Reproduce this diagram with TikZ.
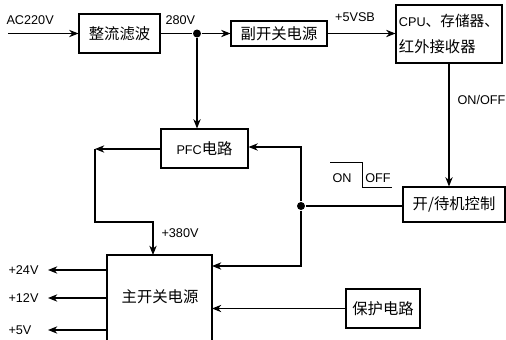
\documentclass[tikz,border=0pt]{standalone}
\usepackage{fontspec}
\setmainfont{Liberation Sans}
\newfontfamily\cjk{Noto Sans CJK SC}
\usetikzlibrary{arrows.meta}
\begin{document}
\begin{tikzpicture}[x=0.75pt,y=-0.75pt,
  line width=0.8pt,
  box/.style={draw,rectangle,inner sep=0pt,font=\cjk\fontsize{11.5}{13}\selectfont},
  lbl/.style={inner sep=0pt,font=\fontsize{9.5}{11}\selectfont},
  arr/.style={-{Stealth[length=7pt,width=5.5pt]}},
  dotc/.style={circle,fill,inner sep=0pt,minimum size=6pt}]
\useasboundingbox (0,0) rectangle (506,339);
% boxes
\node[box,minimum width=81*0.75pt,minimum height=39*0.75pt] (zl) at (119.5,33.5) {整流滤波};
\node[box,minimum width=96*0.75pt,minimum height=25*0.75pt] (fk) at (279,33.5) {副开关电源};
\node[box,minimum width=106*0.75pt,minimum height=58*0.75pt,align=left] (cpu) at (449,34)
  {\fontsize{9.5}{11}\selectfont\rmfamily CPU\cjk\fontsize{11}{13}\selectfont 、存储器、\\[6pt]红外接收器};
\node[box,minimum width=87*0.75pt,minimum height=39*0.75pt] (pfc) at (204.5,148.5)
  {\fontsize{9.5}{11}\selectfont\rmfamily PFC\cjk\fontsize{11.5}{13}\selectfont 电路};
\node[box,minimum width=102*0.75pt,minimum height=35*0.75pt] (dj) at (454,204.5) {开/待机控制};
\node[box,minimum width=74*0.75pt,minimum height=39*0.75pt] (bh) at (383,308.5) {保护电路};
% main box (bottom cut off)
\coordinate (mbl) at (107,345);
\coordinate (mtl) at (107,255);
\coordinate (mtr) at (212,255);
\coordinate (mbr) at (212,345);
\draw (mbl) -- (mtl) -- (mtr) -- (mbr);
\node[inner sep=0pt,font=\cjk\fontsize{11.5}{13}\selectfont] (main) at (160,297) {主开关电源};
% input
\coordinate (acin) at (8,33.5);
\draw[arr] (acin) -- (zl.west);
\node[lbl,anchor=west] (ac) at (6,20) {AC220V};
% 280V junction
\node[dotc] (j1) at (197,33.5) {};
\draw (zl.east) -- (j1);
\node[lbl,anchor=west] (v280) at (165,20) {280V};
\draw[arr] (j1) -- (fk.west);
\draw[arr] (j1) -- (j1 |- pfc.north);
% +5VSB
\draw[arr] (fk.east) -- (fk.east -| cpu.west);
\node[lbl] (v5sb) at (355,17) {+5VSB};
% ON/OFF
\draw[arr] (cpu.south) -- (cpu.south |- dj.north);
\node[lbl,anchor=west] (onoff) at (457,100) {ON/OFF};
% junction 2
\node[dotc] (j2) at (301,206) {};
\draw (dj.west |- j2) -- (j2);
\coordinate (c1) at (301,147);
\draw[arr] (j2) -- (c1) -- (c1 -| pfc.east);
\coordinate (c2) at (301,266);
\draw[arr] (j2) -- (c2) -- (212,266);
% switch symbol
\coordinate (s1) at (330,162);
\coordinate (s2) at (362,162);
\coordinate (s3) at (362,187);
\coordinate (s4) at (392,187);
\draw[line width=0.7pt] (s1) -- (s2) -- (s3) -- (s4);
\node[lbl] (on) at (342,178) {ON};
\node[lbl] (off) at (378,178) {OFF};
% PFC output
\coordinate (p1) at (95,149);
\coordinate (p2) at (95,222);
\coordinate (p3) at (153,222);
\draw[arr] (pfc.west |- p1) -- (p1);
\draw[arr] (p1) -- (p2) -- (p3) -- (153,255);
\node[lbl,anchor=west] (v380) at (161,233) {+380V};
% protection
\draw[arr] (bh.west) -- (212,308.5);
% outputs
\coordinate (o1) at (48,270);
\coordinate (o2) at (48,298);
\coordinate (o3) at (48,330);
\draw[arr] (107,270) -- (o1);
\draw[arr] (107,298) -- (o2);
\draw[arr] (107,330) -- (o3);
\node[lbl,anchor=west] (v24) at (8,270) {+24V};
\node[lbl,anchor=west] (v12) at (8,298) {+12V};
\node[lbl,anchor=west] (v5) at (8,330) {+5V};
\end{tikzpicture}
\end{document}
